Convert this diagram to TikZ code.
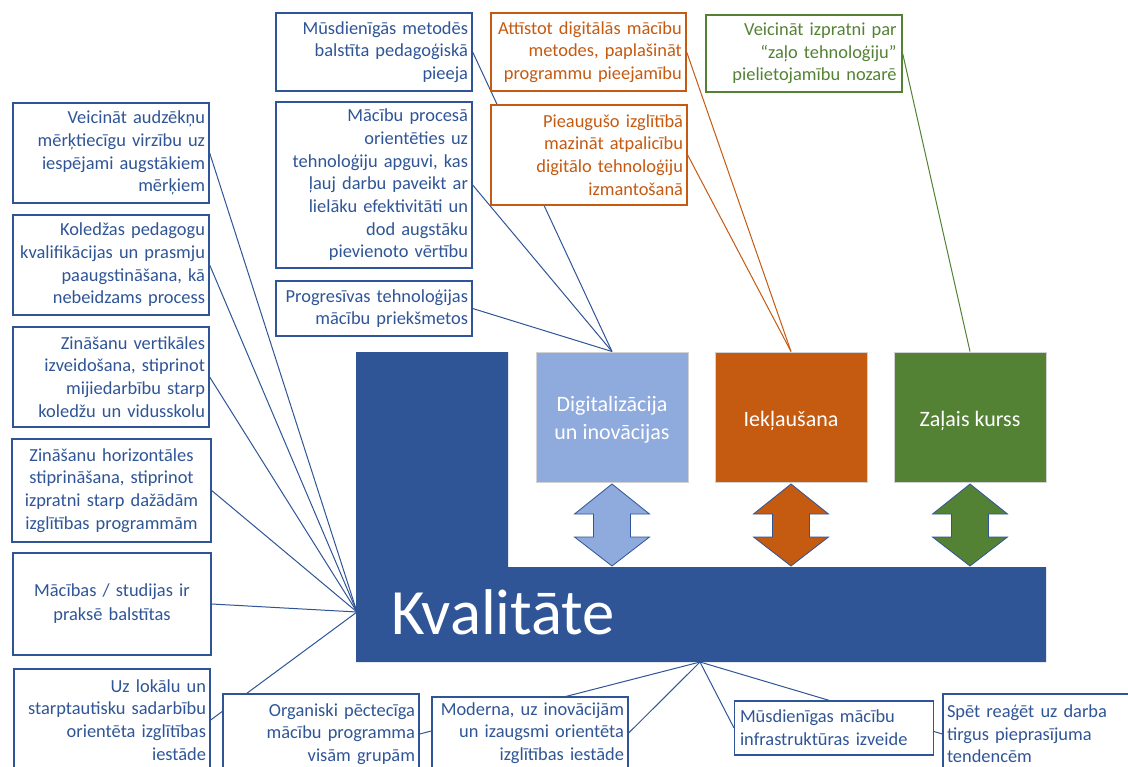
\documentclass[tikz,border=0pt]{standalone}
\usepackage{fontspec}
\setmainfont{Carlito}
\definecolor{dblue}{HTML}{2F5597}
\definecolor{lblue}{HTML}{8FAADC}
\definecolor{orng}{HTML}{C55A11}
\definecolor{grn}{HTML}{548235}
\pgfdeclarelayer{bg}
\pgfdeclarelayer{paper}
\pgfsetlayers{paper,bg,main}
\tikzset{
  bx/.style={draw=#1, fill=white, line width=1pt, text=#1, inner xsep=3pt, inner ysep=0pt,
    font=\fontsize{13.8}{17}\selectfont},
  pillar/.style={fill=#1, draw=gray!35, line width=0.75pt, minimum width=114pt, minimum height=97.5pt,
    text=white, align=center, font=\fontsize{16.5}{21}\selectfont},
  conn/.style={draw=#1, line width=0.75pt},
  dblarrow/.style={fill=#1, draw=dblue, line width=0.6pt}
}
\begin{document}
\begin{tikzpicture}[x=0.75pt,y=-0.75pt]
\useasboundingbox (0,0) rectangle (1128,767);
\begin{pgfonlayer}{paper}
\fill[white] (0,0) rectangle (1128,767);
\end{pgfonlayer}

% Kvalitate L-shape
\fill[dblue] (356,352) -- (508,352) -- (508,567) -- (1046,567) -- (1046,662) -- (356,662) -- cycle;
\node[text=white, font=\fontsize{48.5}{50}\selectfont, anchor=base west, inner sep=0pt] (kv) at (391,634) {Kvalitāte};
\coordinate (kL) at (357,612);
\coordinate (kB) at (700,662);

% pillars
\node[pillar=lblue] (dig) at (612,417) {\\[-6pt]Digitalizācija\\un inovācijas};
\node[pillar=orng] (ink) at (791,417) {\rule{0pt}{17pt}Iekļaušana};
\node[pillar=grn] (zal) at (970,417) {\rule{0pt}{17pt}Zaļais kurss};

% double arrows
\foreach \x/\c in {612/lblue,791/orng,970/grn}{
  \filldraw[dblarrow=\c] (\x,484) -- ++(37.5,30) -- ++(-19,0) -- ++(0,23) -- ++(19,0)
    -- (\x,566) -- ++(-37.5,-29) -- ++(19,0) -- ++(0,-23) -- ++(-19,0) -- cycle;
}

% left column
\node[bx=dblue, minimum width=147pt, minimum height=75pt, text width=141pt, align=right] (L1) at (111,153)
  {Veicināt audzēkņu\\mērķtiecīgu virzību uz\\iespējami augstākiem\\mērķiem};
\node[bx=dblue, minimum width=147pt, minimum height=75pt, text width=141pt, align=right] (L2) at (111,265)
  {Koledžas pedagogu\\kvalifikācijas un prasmju\\paaugstināšana, kā\\nebeidzams process};
\node[bx=dblue, minimum width=147pt, minimum height=75pt, text width=141pt, align=right] (L3) at (111,377)
  {Zināšanu vertikāles\\izveidošana, stiprinot\\mijiedarbību starp\\koledžu un vidusskolu};
\node[bx=dblue, minimum width=149.25pt, minimum height=77.25pt, text width=143pt, align=center] (L4) at (111.5,490.5)
  {Zināšanu horizontāles\\stiprināšana, stiprinot\\izpratni starp dažādām\\izglītības programmām};
\node[bx=dblue, minimum width=148.5pt, minimum height=76.5pt, text width=142pt, align=center, font=\fontsize{13.8}{18}\selectfont] (L5) at (112,604)
  {Mācības / studijas ir\\praksē balstītas};
\node[bx=dblue, minimum width=147pt, minimum height=76.5pt, text width=141pt, align=right] (L6) at (112,720)
  {Uz lokālu un\\starptautisku sadarbību\\orientēta izglītības\\iestāde};

% top boxes
\node[bx=dblue, minimum width=147pt, minimum height=58.5pt, text width=141pt, align=right] (T1) at (374,52)
  {Mūsdienīgās metodēs\\balstīta pedagoģiskā\\pieeja};
\node[bx=dblue, minimum width=147pt, minimum height=124.5pt, text width=141pt, align=right] (T2) at (374,185)
  {Mācību procesā\\orientēties uz\\tehnoloģiju apguvi, kas\\ļauj darbu paveikt ar\\lielāku efektivitāti un\\dod augstāku\\pievienoto vērtību};
\node[bx=dblue, minimum width=147pt, minimum height=41.25pt, text width=141pt, align=right] (T3) at (374,308.5)
  {Progresīvas tehnoloģijas\\mācību priekšmetos};
\node[bx=orng, minimum width=146.25pt, minimum height=58.5pt, text width=140pt, align=right] (O1) at (588.5,52)
  {Attīstot digitālās mācību\\metodes, paplašināt\\programmu pieejamību};
\node[bx=orng, minimum width=147pt, minimum height=75pt, text width=141pt, align=right] (O2) at (589,155)
  {Pieaugušo izglītībā\\mazināt atpalicību\\digitālo tehnoloģiju\\izmantošanā};
\node[bx=grn, minimum width=147pt, minimum height=57.75pt, text width=139pt, align=right, inner xsep=4pt] (G1) at (804,53.5)
  {Veicināt izpratni par\\“zaļo tehnoloģiju”\\pielietojamību nozarē};

% bottom boxes
\node[bx=dblue, minimum width=147pt, minimum height=60pt, text width=141pt, align=right] (B1) at (321,734)
  {Organiski pēctecīga\\mācību programma\\visām grupām};
\node[bx=dblue, minimum width=147pt, minimum height=54pt, text width=141pt, align=right] (B2) at (530,733)
  {Moderna, uz inovācijām\\un izaugsmi orientēta\\izglītības iestāde};
\node[bx=dblue, minimum width=147pt, minimum height=40.5pt, text width=141pt, align=left, inner xsep=4pt] (B3) at (834,728)
  {Mūsdienīgas mācību\\infrastruktūras izveide};
\node[bx=dblue, minimum width=144pt, minimum height=60pt, text width=138pt, align=left] (B4) at (1039,734)
  {Spēt reaģēt uz darba\\tirgus pieprasījuma\\tendencēm};

% connectors
\begin{pgfonlayer}{bg}
\foreach \n in {L1,L2,L3,L4,L5,L6}{\draw[conn=dblue] (\n.east) -- (kL);}
\foreach \n in {T1,T2,T3}{\draw[conn=dblue] (\n.east) -- (dig.north);}
\foreach \n in {O1,O2}{\draw[conn=orng] (\n.east) -- (ink.north);}
\draw[conn=grn] (G1.east) -- (zal.north);
\foreach \n in {B1,B2}{\draw[conn=dblue] (\n.east) -- (kB);}
\foreach \n in {B3,B4}{\draw[conn=dblue] (\n.west) -- (kB);}
\end{pgfonlayer}
\end{tikzpicture}
\end{document}
